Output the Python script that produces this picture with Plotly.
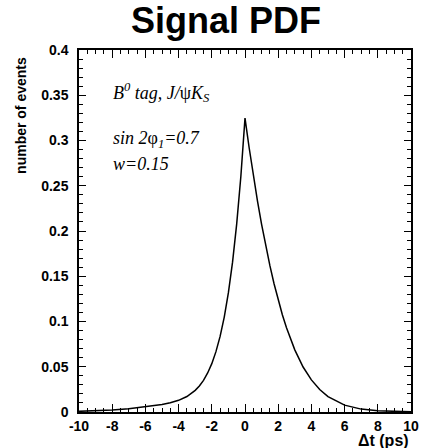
import plotly.graph_objects as go

# Δt (ps) sample points and PDF values
dt = [-10, -9, -8, -7, -6, -5, -4.5, -4, -3.5, -3, -2.75, -2.5, -2.25, -2, -1.75, -1.5,
      -1.25, -1, -0.75, -0.5, -0.25, 0, 0.25, 0.5, 0.75, 1, 1.25, 1.5, 1.75, 2, 2.25,
      2.5, 2.75, 3, 3.5, 4, 4.5, 5, 6, 7, 8, 9, 10]
pdf = [0.00073, 0.00135, 0.00232, 0.00372, 0.00561, 0.00827, 0.0102, 0.0129, 0.0171,
       0.0239, 0.0288, 0.0350, 0.0431, 0.0534, 0.0667, 0.0835, 0.1049, 0.1318, 0.1656,
       0.2078, 0.2602, 0.3247, 0.2920, 0.2616, 0.2334, 0.2074, 0.1835, 0.1617, 0.1417,
       0.1238, 0.1075, 0.0930, 0.0802, 0.0687, 0.0497, 0.0355, 0.0248, 0.0170, 0.00757,
       0.00318, 0.00128, 0.00053, 0.00025]

x_tickvals = [-10, -8, -6, -4, -2, 0, 2, 4, 6, 8, 10]
x_ticktext = ["-10", "-8", "-6", "-4", "-2", "0", "2", "4", "6", "8", "10"]
y_tickvals = [0, 0.05, 0.1, 0.15, 0.2, 0.25, 0.3, 0.35, 0.4]
y_ticktext = ["0", "0.05", "0.1", "0.15", "0.2", "0.25", "0.3", "0.35", "0.4"]

W, H = 425, 448
L, R, T, B = 79, 6, 50, 36
PW, PH = W - L - R, H - T - B


def px(p):
    return (p - L) / PW


def py(q):
    return (H - B - q) / PH


fig = go.Figure()
fig.add_trace(go.Scatter(x=dt, y=pdf, mode="lines",
                         line=dict(color="black", width=1.5), hoverinfo="skip"))

sans = "Liberation Sans"
serif = "Liberation Serif"

axis_common = dict(showgrid=False, zeroline=False, showline=True, linecolor="black",
                   linewidth=1.5, mirror="ticks", ticks="inside", tickcolor="black",
                   tickwidth=1, tickfont=dict(family=sans, size=14, color="black"))

fig.update_layout(
    width=W, height=H,
    margin=dict(l=L, r=R, t=T, b=B),
    paper_bgcolor="white", plot_bgcolor="white",
    showlegend=False,
    xaxis=dict(range=[-10, 10], tickvals=x_tickvals,
               ticktext=["<b>%s</b>" % t for t in x_ticktext], ticklen=8,
               minor=dict(dtick=0.5, ticks="inside", ticklen=4, tickcolor="black",
                          tickwidth=1),
               **axis_common),
    yaxis=dict(range=[0, 0.4], tickvals=y_tickvals,
               ticktext=["<b>%s</b>" % t for t in y_ticktext], ticklen=7,
               ticklabelstandoff=6,
               minor=dict(dtick=0.01, ticks="inside", ticklen=4, tickcolor="black",
                          tickwidth=1),
               **axis_common),
)

anns = [
    dict(text="<b>Signal PDF</b>", x=px(230), y=py(20), xanchor="center",
         yanchor="middle", font=dict(family=sans, size=36, color="black")),
    dict(text="<b>number of events</b>", x=px(19), y=py(55), xanchor="center",
         yanchor="top", textangle=-90, font=dict(family=sans, size=14, color="black")),
    dict(text="<b>Δt (ps)</b>", x=px(419), y=py(440), xanchor="right",
         yanchor="middle", font=dict(family=sans, size=16, color="black")),
    dict(text="<i>B<sup>0</sup> tag, J/</i>ψ<i>K<sub>S</sub></i>", x=px(112), y=py(92),
         xanchor="left", yanchor="middle",
         font=dict(family=serif, size=18, color="black")),
    dict(text="<i>sin 2</i>φ<i><sub>1</sub>=0.7</i>", x=px(112), y=py(139),
         xanchor="left", yanchor="middle",
         font=dict(family=serif, size=18, color="black")),
    dict(text="<i>w=0.15</i>", x=px(112), y=py(164), xanchor="left", yanchor="middle",
         font=dict(family=serif, size=18, color="black")),
]
for a in anns:
    a.update(xref="paper", yref="paper", showarrow=False)
    fig.add_annotation(**a)

fig.write_html("out.html")
